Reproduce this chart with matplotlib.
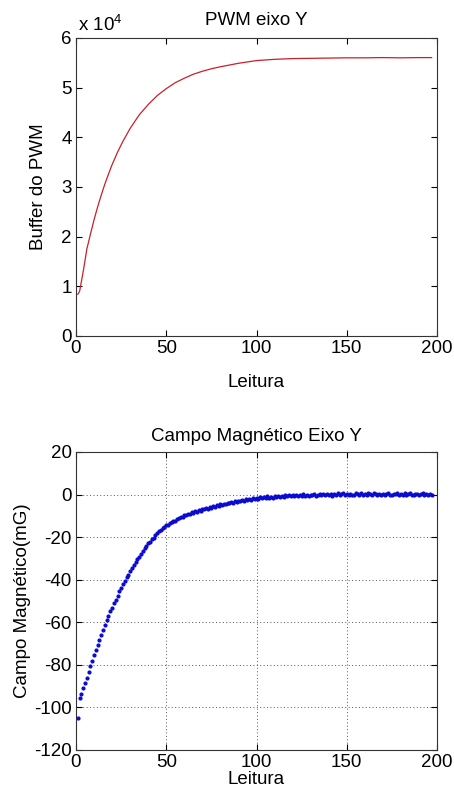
import matplotlib
matplotlib.use('Agg')
import matplotlib.pyplot as plt

plt.rcParams['font.family'] = ['Liberation Sans', 'DejaVu Sans']
plt.rcParams['mathtext.default'] = 'regular'
plt.rcParams['axes.unicode_minus'] = False

# PWM buffer (top plot), read at a few readings
pwm_x = [1, 2, 3, 4, 5, 6, 8, 10, 12, 14, 16, 18, 20, 23, 26, 30, 35, 40, 45, 50,
         55, 60, 65, 70, 75, 80, 90, 100, 110, 120, 130, 140, 150, 160, 170, 180, 190, 197]
pwm_y = [8400, 9000, 11000, 13000, 15200, 17500, 20500, 23400, 26000, 28400, 30600, 32600,
         34500, 37000, 39200, 41800, 44500, 46600, 48400, 49800, 51000, 51900, 52700, 53300,
         53800, 54200, 54900, 55450, 55700, 55850, 55900, 55950, 56000, 56000, 56050, 56000,
         56050, 56050]

# magnetic field (bottom plot), one value per reading 1..197
campo_y = [
    -105.2, -95.4, -93.6, -91.1, -88.4, -86.0, -83.2, -80.6, -78.1, -75.4,
    -73.0, -70.6, -68.1, -65.9, -63.6, -61.4, -59.1, -57.0, -54.9, -53.1,
    -51.0, -49.4, -47.6, -45.4, -44.1, -42.0, -40.6, -38.9, -37.6, -35.9,
    -34.6, -32.9, -31.7, -30.3, -29.2, -27.8, -26.7, -25.3, -24.2, -22.8,
    -22.1, -20.8, -20.2, -18.9, -18.3, -17.2, -16.8, -15.7, -15.4, -14.3,
    -14.2, -13.3, -13.1, -12.2, -12.3, -11.3, -11.2, -10.4, -10.5, -9.7,
    -9.8, -9.0, -9.2, -8.4, -8.6, -7.8, -8.0, -7.3, -7.5, -6.8,
    -7.0, -6.3, -6.6, -5.9, -6.1, -5.4, -5.7, -5.0, -5.3, -4.6,
    -4.9, -4.3, -4.5, -3.8, -4.1, -3.5, -3.8, -3.1, -3.4, -2.8,
    -3.1, -2.5, -2.9, -2.3, -2.6, -1.9, -2.4, -1.7, -2.1, -1.5,
    -1.9, -1.3, -1.8, -1.2, -1.6, -0.9, -1.5, -1.0, -1.4, -0.7,
    -1.2, -0.6, -1.1, -0.5, -1.0, -0.4, -0.9, -0.3, -0.8, -0.2,
    -0.7, -0.1, -0.8, -0.3, -0.6, 0.1, -0.5, -0.2, -0.7, 0.0,
    -0.4, 0.2, -0.5, -0.1, 0.3, -0.4, 0.1, -0.3, 0.4, -0.2,
    0.2, -0.5, 0.3, -0.1, 0.5, -0.3, 0.2, 0.6, -0.2, 0.3,
    -0.4, 0.4, 0.0, -0.3, 0.5, 0.1, -0.2, 0.6, 0.0, 0.3,
    -0.3, 0.5, 0.2, -0.1, 0.7, 0.1, -0.2, 0.4, 0.0, 0.3,
    -0.4, 0.2, 0.6, 0.0, -0.3, 0.4, 0.1, 0.5, -0.2, 0.3,
    0.0, 0.6, -0.1, 0.3, 0.7, 0.0, -0.3, 0.4, 0.2, -0.2,
    0.3, 0.5, -0.1, 0.2, 0.0, 0.4, -0.1]
campo_x = list(range(1, len(campo_y) + 1))

x_ticks = [0, 50, 100, 150, 200]
pwm_ticks = [0, 10000, 20000, 30000, 40000, 50000, 60000]
pwm_labels = ['0', '1', '2', '3', '4', '5', '6']
campo_ticks = [-120, -100, -80, -60, -40, -20, 0, 20]

fs = 13.5

fig = plt.figure(figsize=(4.54, 7.96), dpi=100)
ax1 = fig.add_axes([0.1674, 0.5779, 0.7952, 0.3744])
ax2 = fig.add_axes([0.1674, 0.0578, 0.7952, 0.3744])

for ax in (ax1, ax2):
    ax.tick_params(direction='in', top=True, right=True, length=4, width=0.8,
                   labelsize=fs, pad=3)
    for s in ax.spines.values():
        s.set_linewidth(0.8)
        s.set_color('#333333')
    ax.set_xlim(0, 200)
    ax.set_xticks(x_ticks)

# top: PWM
ax1.plot(pwm_x, pwm_y, color='#c8202a', lw=0.9)
ax1.set_ylim(0, 60000)
ax1.set_yticks(pwm_ticks)
ax1.set_yticklabels(pwm_labels)
ax1.set_title('PWM eixo Y', fontsize=fs, pad=9)
ax1.set_xlabel('Leitura', fontsize=fs, labelpad=12)
ax1.set_ylabel('Buffer do PWM', fontsize=fs, labelpad=10)
ax1.text(0.005, 1.01, 'x 10$^{4}$', transform=ax1.transAxes, fontsize=fs,
         ha='left', va='bottom')

# bottom: campo magnetico
ax2.plot(campo_x, campo_y, '.', color='#0a0ad0', markersize=4)
ax2.set_ylim(-120, 20)
ax2.set_yticks(campo_ticks)
ax2.grid(True, linestyle=(0, (1, 2.5)), color='#555555', linewidth=0.7)
ax2.set_title('Campo Magnético Eixo Y', fontsize=fs, pad=8)
ax2.set_xlabel('Leitura', fontsize=fs, labelpad=0)
ax2.set_ylabel('Campo Magnético(mG)', fontsize=fs, labelpad=2)

fig.savefig('out.png', dpi=100)
